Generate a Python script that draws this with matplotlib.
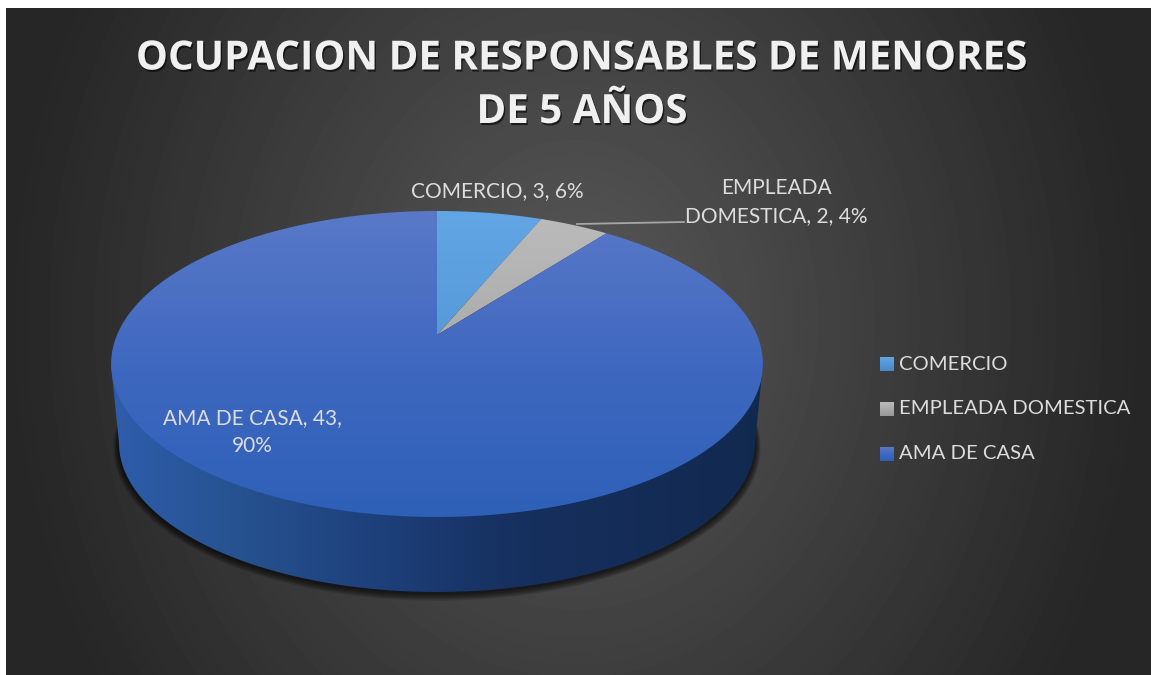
import numpy as np
import matplotlib
matplotlib.use('Agg')
import matplotlib.pyplot as plt
import matplotlib.patheffects as pe
from matplotlib.colors import LinearSegmentedColormap
from matplotlib.patches import Polygon

# data
categories = ['COMERCIO', 'EMPLEADA DOMESTICA', 'AMA DE CASA']
values = [3, 2, 43]
percents = ['6%', '4%', '90%']
title_lines = ['OCUPACION DE RESPONSABLES DE MENORES', 'DE 5 AÑOS']
face_colors = [
    [(0, '#62a6e6'), (1, '#4589c6')],
    [(0, '#bcbcbc'), (1, '#969696')],
    [(0, '#5a79c8'), (0.5, '#3f68c0'), (1, '#2e60b8')],
]

FONT = 'Lato'
W, H = 1151, 675

fig = plt.figure(figsize=(W / 100, H / 100), dpi=100, facecolor='white')
ax = fig.add_axes([0, 0, 1, 1])
ax.axis('off')


# pie is drawn with perspective, so the apex sits above the ellipse centre
def project(theta, r=1.0):
    u = r * np.sin(theta)
    v = r * np.cos(theta)
    d = 1 + 0.1895 * v
    return 437 + 320 * u / d, 335 - 147.5 * v / d


def gradient_fill(points, stops, extent, horizontal=False, zorder=2):
    cmap = LinearSegmentedColormap.from_list('g', stops)
    g = np.linspace(0, 1, 256)
    g = g.reshape(1, -1) if horizontal else g.reshape(-1, 1)
    im = ax.imshow(g, cmap=cmap, extent=extent, aspect='auto', zorder=zorder, origin='upper')
    im.set_clip_path(Polygon(points, closed=True, transform=ax.transData))


# background
yy, xx = np.mgrid[8:H, 6:W]
t = np.sqrt(((xx - 575) / 570.0) ** 2 + ((yy - 320) / 680.0) ** 2)
bg = 0x58 - (0x58 - 0x26) * np.clip(t, 0, 1)
ax.imshow(bg, cmap='gray', vmin=0, vmax=255, extent=(6, W, H, 8), aspect='auto', zorder=0)

# side wall of the pie, with a soft shadow under it
ang = np.linspace(0, 2 * np.pi, 500)
low = np.linspace(-np.pi / 2, np.pi / 2, 300)
wall = np.column_stack([
    np.r_[111, 437 + 318 * np.sin(low), 763],
    np.r_[364, 443 + 149 * np.cos(low), 364],
])
for i in range(7, 0, -1):
    sh = np.column_stack([437 + (318 + i * 0.8) * np.sin(ang), 444 + i * 0.5 + (149 + i * 0.6) * np.cos(ang)])
    ax.add_patch(Polygon(sh, closed=True, fc='black', ec='none', alpha=0.12, zorder=1))

wall_stops = [(0, '#2e5dac'), (0.2, '#26528f'), (0.42, '#1d3f7a'), (0.62, '#16305f'), (1, '#12294f')]
gradient_fill(wall, wall_stops, (111, 763, 600, 360), horizontal=True)

# top faces, one per slice
fracs = np.cumsum([0] + values) / float(sum(values))
for i in range(len(values)):
    th = np.linspace(fracs[i] * 2 * np.pi, fracs[i + 1] * 2 * np.pi, 300)
    px, py = project(th)
    pts = np.column_stack([np.r_[437, px], np.r_[335, py]])
    gradient_fill(pts, face_colors[i], (100, 775, 520, 208), zorder=3)

# title
for n, line in enumerate(title_lines):
    ax.text(582, 59 + n * 53.5, line, color='#f0f0f0', fontsize=29, fontweight='bold', family='Open Sans',
            ha='center', va='center', zorder=5,
            path_effects=[pe.withSimplePatchShadow(offset=(1, -1.5), shadow_rgbFace='black', alpha=0.6)])

# data labels
lab = '#dcdcdc'
ax.text(497, 191, '%s, %d, %s' % (categories[0], values[0], percents[0]), color=lab, fontsize=15, family=FONT,
        ha='center', va='center', zorder=5)
ax.text(776, 202, 'EMPLEADA\nDOMESTICA, %d, %s' % (values[1], percents[1]), color=lab, fontsize=15, family=FONT,
        ha='center', va='center', linespacing=1.55, zorder=5)
ax.text(252, 432, '%s, %d,\n%s' % (categories[2], values[2], percents[2]), color=lab, fontsize=15, family=FONT,
        ha='center', va='center', linespacing=1.45, zorder=5)
ax.plot([577, 684], [224, 222], color='#a6a6a6', lw=1.3, zorder=4)

# legend
for i, name in enumerate(categories):
    y = 364 + i * 44.8
    gradient_fill([(880, y - 7), (894, y - 7), (894, y + 7), (880, y + 7)], face_colors[i],
                  (880, 894, y + 7, y - 7), zorder=4)
    ax.text(899, y, name, color=lab, fontsize=14.6, family=FONT, ha='left', va='center', zorder=5)

ax.set_xlim(0, W)
ax.set_ylim(H, 0)
fig.savefig('out.png', dpi=100, facecolor='white')
